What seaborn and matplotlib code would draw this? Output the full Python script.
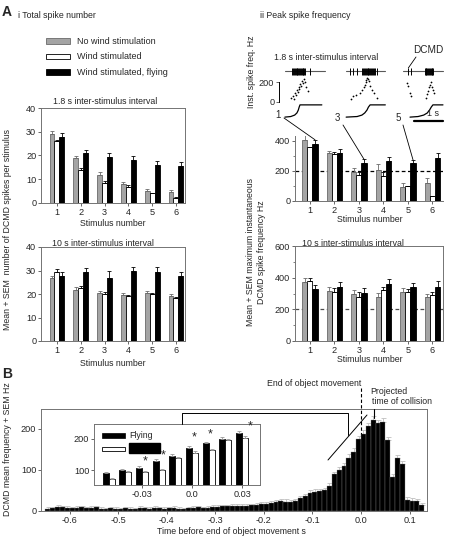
import numpy as np
import pandas as pd
import matplotlib
matplotlib.use("Agg")
import matplotlib.pyplot as plt
from matplotlib.patches import Patch, Rectangle
import seaborn as sns

W, H = 449, 538  # output size in pixels at dpi 100

# ── Data ──────────────────────────────────────────────────────────────
stimuli = [1, 2, 3, 4, 5, 6]
conditions = ["No wind stimulation", "Wind stimulated", "Wind stimulated, flying"]
fills = ["#a4a4a4", "white", "black"]
edges = ["#6a6a6a", "black", "black"]

# A i: total DCMD spikes per stimulus
tot18_nowind = [29.0, 18.8, 11.7, 7.9, 5.1, 4.6]
tot18_wind = [26.0, 13.8, 8.6, 6.9, 4.1, 2.2]
tot18_fly = [28.0, 21.0, 19.4, 18.2, 16.2, 15.4]
tot18_nowind_sem = [1.2, 1.1, 1.2, 1.0, 0.9, 0.9]
tot18_wind_sem = [0.7, 0.8, 0.7, 0.6, 0.3, 0.2]
tot18_fly_sem = [1.3, 1.5, 1.8, 1.5, 1.6, 1.8]

tot10_nowind = [26.6, 21.8, 20.4, 19.5, 20.3, 19.2]
tot10_wind = [29.3, 22.5, 19.8, 19.1, 19.8, 18.5]
tot10_fly = [27.6, 29.4, 27.0, 29.7, 29.3, 27.6]
tot10_nowind_sem = [1.0, 1.2, 1.0, 0.9, 1.1, 0.9]
tot10_wind_sem = [1.2, 0.8, 0.9, 0.6, 0.7, 0.4]
tot10_fly_sem = [1.9, 1.8, 2.6, 1.9, 2.3, 1.7]

# A ii: peak instantaneous DCMD frequency (Hz)
pk18_nowind = [405, 316, 195, 205, 95, 117]
pk18_wind = [354, 312, 172, 166, 97, 30]
pk18_fly = [378, 320, 250, 265, 250, 287]
pk18_nowind_sem = [32, 18, 26, 38, 22, 33]
pk18_wind_sem = [6, 10, 23, 28, 4, 3]
pk18_fly_sem = [27, 23, 26, 25, 22, 29]

pk10_nowind = [372, 314, 297, 280, 308, 275]
pk10_wind = [376, 312, 280, 325, 308, 290]
pk10_fly = [329, 344, 301, 361, 340, 344]
pk10_nowind_sem = [26, 24, 26, 21, 25, 22]
pk10_wind_sem = [22, 21, 28, 15, 21, 18]
pk10_fly_sem = [26, 28, 32, 28, 26, 32]

# A ii example recordings (time in s, inst. frequency in Hz)
ex_labels = ["1", "3", "5"]
ex1_spikes = [0.32, 0.36, 0.40, 0.43, 0.46, 0.49, 0.52, 0.55, 0.58, 0.61,
              0.64, 0.67, 0.70, 0.73, 0.76, 0.79, 0.95]
ex3_spikes = [0.50, 0.62, 0.74, 0.92, 0.96, 1.00, 1.03, 1.06, 1.09, 1.12,
              1.15, 1.18, 1.21, 1.24, 1.27, 1.31, 1.35, 1.39, 1.47]
ex5_spikes = [0.37, 0.45, 0.96, 0.99, 1.02, 1.05, 1.08, 1.11, 1.14, 1.17,
              1.20, 1.23, 1.26]
ex_raster_span = [(0.07, 1.50), (0.36, 1.75), (0.18, 1.61)]
ex1_dot_t = [0.30, 0.36, 0.40, 0.44, 0.47, 0.50, 0.53, 0.56, 0.59, 0.62,
             0.65, 0.68, 0.71, 0.74, 0.78, 0.84, 0.90]
ex1_dot_f = [40, 60, 30, 90, 70, 120, 100, 150, 130, 180, 160, 210, 190,
             230, 200, 150, 110]
ex3_dot_t = [0.52, 0.62, 0.72, 0.86, 0.94, 0.98, 1.02, 1.05, 1.08, 1.11,
             1.14, 1.17, 1.22, 1.28, 1.34, 1.45]
ex3_dot_f = [30, 55, 70, 95, 120, 150, 175, 200, 225, 245, 230, 210, 160,
             120, 90, 35]
ex5_dot_t = [0.34, 0.37, 0.42, 0.46, 1.00, 1.04, 1.08, 1.11, 1.14, 1.17,
             1.20, 1.24, 1.28]
ex5_dot_f = [190, 160, 90, 60, 40, 80, 110, 150, 175, 205, 150, 120, 90]
ex1_stim_t = [0.07, 0.28, 0.42, 0.50, 0.55, 0.58, 0.61, 1.39]
ex3_stim_t = [0.36, 0.75, 0.92, 1.02, 1.10, 1.15, 1.21, 1.75]
ex5_stim_t = [0.43, 0.72, 0.92, 1.05, 1.13, 1.19, 1.25, 1.61]
stim_trace_y = [-158, -152, -137, -115, -85, -55, -32, -32]

# B: DCMD mean frequency in 10 ms bins, first bin starts at -0.65 s
first_bin = -0.65
bin_width = 0.01
hist_freq = [
    6, 7, 10, 9, 8, 7, 8, 9, 7, 8, 9, 6, 5, 7, 6, 5, 7, 6, 5, 8,
    7, 6, 8, 7, 6, 7, 8, 6, 5, 7, 8, 9, 7, 8, 10,
    10, 11, 11, 12, 12, 13, 12, 14, 15, 16, 18, 20, 22,
    25, 23, 21, 24, 31, 36, 44, 47, 48, 51, 61, 89, 100, 109, 130, 144,
    175, 188, 206, 222, 214, 217, 172, 83, 128, 114, 27, 25, 24, 15,
]
hist_sem = [
    3, 3, 4, 3, 3, 3, 3, 3, 3, 3, 4, 3, 2, 3, 3, 2, 3, 3, 2, 3,
    3, 3, 3, 3, 3, 3, 3, 3, 2, 3, 3, 4, 3, 3, 4,
    4, 4, 4, 4, 4, 4, 4, 4, 5, 5, 5, 5, 5,
    5, 5, 5, 5, 6, 6, 6, 6, 6, 6, 7, 7, 7, 7, 8, 8,
    8, 8, 8, 8, 8, 8, 8, 7, 8, 8, 6, 6, 5, 4,
]
t_collision = 0.027

# B inset: flying vs wind stimulated around end of movement
inset_t = [-0.05, -0.04, -0.03, -0.02, -0.01, 0.0, 0.01, 0.02, 0.03]
inset_fly = [89, 100, 108, 130, 145, 172, 186, 199, 218]
inset_fly_sem = [6, 3, 5, 4, 5, 6, 5, 6, 6]
inset_wind = [71, 95, 95, 100, 138, 156, 165, 195, 202]
inset_wind_sem = [5, 3, 3, 3, 3, 5, 3, 4, 6]
star_t = [-0.028, -0.0174, 0.0012, 0.011, 0.0347]
star_f = [127, 148, 206, 213, 239]

# ── Style ─────────────────────────────────────────────────────────────
sns.set_theme(style="ticks")
plt.rcParams["font.family"] = ["Liberation Sans", "DejaVu Sans"]
plt.rcParams["font.size"] = 6.3
plt.rcParams["axes.unicode_minus"] = False

fig = plt.figure(figsize=(W / 100, H / 100), dpi=100)


def px_axes(left, top, right, bottom, **kw):
    return fig.add_axes([left / W, 1 - bottom / H, (right - left) / W, (bottom - top) / H], **kw)


def frame(ax, sides=("left", "bottom", "top", "right")):
    for name, sp in ax.spines.items():
        sp.set_visible(name in sides)
        sp.set_color("0.45")
        sp.set_linewidth(0.7)
    ax.tick_params(length=2.2, width=0.6, color="0.3", pad=1.2, labelsize=6.6)
    ax.tick_params(which="minor", length=1.4, width=0.5, color="0.3")
    ax.set_xlabel("")
    ax.set_ylabel("")


def grouped(ax, vals, sems, ylim, yticks, xlim):
    df = pd.DataFrame({"stim": stimuli * 3,
                       "cond": np.repeat(conditions, len(stimuli)),
                       "value": np.concatenate(vals)})
    sns.barplot(df, x="stim", y="value", hue="cond", hue_order=conditions,
                palette=fills, width=0.62, saturation=1, errorbar=None,
                legend=False, ax=ax, zorder=2)
    for cont, err, ec in zip(ax.containers, sems, edges):
        for bar, e in zip(cont, err):
            bar.set_edgecolor(ec)
            bar.set_linewidth(0.6)
            ax.errorbar(bar.get_x() + bar.get_width() / 2, bar.get_height(),
                        yerr=[[0], [e]], fmt="none", ecolor=ec, elinewidth=0.6,
                        capsize=1.7, capthick=0.6, zorder=3)
    ax.set_ylim(*ylim)
    ax.set_yticks(yticks)
    ax.set_xlim(*xlim)


# ── A i ───────────────────────────────────────────────────────────────
ai_top = px_axes(41, 108, 185, 203)
grouped(ai_top, [tot18_nowind, tot18_wind, tot18_fly],
        [tot18_nowind_sem, tot18_wind_sem, tot18_fly_sem],
        (0, 40), [0, 10, 20, 30, 40], (-0.67, 5.38))
frame(ai_top)

ai_bot = px_axes(41, 247, 185, 341)
grouped(ai_bot, [tot10_nowind, tot10_wind, tot10_fly],
        [tot10_nowind_sem, tot10_wind_sem, tot10_fly_sem],
        (0, 40), [0, 10, 20, 30, 40], (-0.67, 5.38))
frame(ai_bot)

# ── A ii ──────────────────────────────────────────────────────────────
aii_top = px_axes(295, 136, 443, 201)
grouped(aii_top, [pk18_nowind, pk18_wind, pk18_fly],
        [pk18_nowind_sem, pk18_wind_sem, pk18_fly_sem],
        (0, 430), [0, 200, 400], (-0.61, 5.43))
aii_top.set_yticks([100, 300], minor=True)
aii_top.axhline(200, color="black", lw=0.9, ls=(0, (3, 2)), zorder=1)
frame(aii_top, ("left", "bottom"))

aii_bot = px_axes(295, 246, 443, 341)
grouped(aii_bot, [pk10_nowind, pk10_wind, pk10_fly],
        [pk10_nowind_sem, pk10_wind_sem, pk10_fly_sem],
        (0, 600), [0, 200, 400, 600], (-0.61, 5.43))
aii_bot.set_yticks([100, 300, 500], minor=True)
aii_bot.axhline(200, color="0.3", lw=0.9, ls=(0, (3, 2)), zorder=1)
frame(aii_bot)

# example recordings above the 1.8 s peak frequency plot
ex_axes = []
ex_data = [
    (279, 335, -0.14, 2.0, ex1_spikes, ex1_dot_t, ex1_dot_f, ex1_stim_t),
    (336, 398, 0.0, 2.2, ex3_spikes, ex3_dot_t, ex3_dot_f, ex3_stim_t),
    (398, 448, 0.0, 1.79, ex5_spikes, ex5_dot_t, ex5_dot_f, ex5_stim_t),
]
for i, (left, right, t0, span, spikes, dot_t, dot_f, stim_t) in enumerate(ex_data):
    ax = px_axes(left, 60, right, 128)
    ax.patch.set_alpha(0)
    ax.set_xlim(t0, t0 + span)
    ax.set_ylim(-270, 430)
    r0, r1 = ex_raster_span[i]
    ax.plot([r0, r1], [312, 312], color="0.35", lw=0.8)
    ax.vlines(spikes, 278, 346, color="black", lw=0.7)
    sns.scatterplot(x=dot_t, y=dot_f, s=1.6, color="black", linewidth=0, ax=ax)
    ax.plot(stim_t, stim_trace_y, color="black", lw=0.9)
    frame(ax, ("left",) if i == 0 else ())
    ax.set_xticks([])
    if i == 0:
        ax.spines["left"].set_bounds(0, 200)
        ax.spines["left"].set_color("black")
        ax.set_yticks([0, 200])
    else:
        ax.set_yticks([])
    ex_axes.append(ax)

# ── B ───────────────────────────────────────────────────────────────
axB = px_axes(41, 409, 427, 511)
n_bins = len(hist_freq)
centers = np.round(first_bin + bin_width * (np.arange(n_bins) + 0.5), 4)
df_hist = pd.DataFrame({"t": centers, "freq": hist_freq})
axB.errorbar(centers, hist_freq, yerr=[np.zeros(n_bins), hist_sem],
             fmt="none", ecolor="0.75", elinewidth=0.6, capsize=1.8,
             capthick=0.6, zorder=1)
sns.histplot(df_hist, x="t", weights="freq", binwidth=bin_width,
             binrange=(first_bin, first_bin + n_bins * bin_width),
             color="black", edgecolor="0.5", linewidth=0.25, alpha=1,
             ax=axB, zorder=2)
axB.set_xlim(-0.659, 0.136)
axB.set_ylim(0, 248)
axB.set_yticks([0, 100, 200])
xt = [-0.6, -0.5, -0.4, -0.3, -0.2, -0.1, 0.0, 0.1]
axB.set_xticks(xt, [f"{v:.1f}" for v in xt])
frame(axB)

axI = px_axes(94, 424, 260, 485)
df_in = pd.DataFrame({"t": inset_t * 2,
                      "cond": ["Flying"] * len(inset_t) + ["Wind stimulated"] * len(inset_t),
                      "f": inset_fly + inset_wind})
sns.barplot(df_in, x="t", y="f", hue="cond", native_scale=True,
            palette=["black", "white"], width=0.72, saturation=1,
            errorbar=None, legend=False, ax=axI, zorder=2)
for cont, err in zip(axI.containers, [inset_fly_sem, inset_wind_sem]):
    for bar, e in zip(cont, err):
        bar.set_edgecolor("black")
        bar.set_linewidth(0.6)
        axI.errorbar(bar.get_x() + bar.get_width() / 2, bar.get_height(),
                     yerr=[[0], [e]], fmt="none", ecolor="0.6", elinewidth=0.6,
                     capsize=1.5, capthick=0.6, zorder=3)
for t, f in zip(star_t, star_f):
    axI.text(t, f, "*", ha="center", va="center", fontsize=9, clip_on=False)
axI.set_xlim(-0.0587, 0.0407)
axI.set_ylim(52, 248)
axI.set_yticks([100, 200])
axI.set_xticks([-0.03, 0.0, 0.03], ["-0.03", "0.0", "0.03"])
frame(axI)

# ── Legend and annotations (figure pixel overlay) ────────────────────
handles = [Patch(facecolor=f, edgecolor=e, linewidth=0.6) for f, e in zip(fills, edges)]
fig.legend(handles, conditions, loc="upper left", bbox_to_anchor=(46 / W, 1 - 37 / H),
           frameon=False, fontsize=6.5, handlelength=2.7, handleheight=0.55,
           handletextpad=0.7, labelspacing=0.72, borderpad=0, borderaxespad=0)

ov = fig.add_axes([0, 0, 1, 1], zorder=20)
ov.set_xlim(0, W)
ov.set_ylim(H, 0)
ov.axis("off")


def to_px(ax, x, y):
    return ov.transData.inverted().transform(ax.transData.transform((x, y)))


ov.text(2, 12.5, "A", fontsize=10, fontweight="bold", va="center")
ov.text(2, 374, "B", fontsize=10, fontweight="bold", va="center")
ov.text(18, 15, "i Total spike number", va="center")
ov.text(260, 16, "ii Peak spike frequency", va="center")

ov.text(53, 102, "1.8 s inter-stimulus interval", va="center")
ov.text(52, 243, "10 s inter-stimulus interval", va="center")
ov.text(274, 57, "1.8 s inter-stimulus interval", va="center")
ov.text(302, 243, "10 s inter-stimulus interval", va="center")
for x, y in [(113, 224), (113, 363), (370, 220), (370, 359)]:
    ov.text(x, y, "Stimulus number", ha="center", va="center")

ov.text(8, 229, "Mean + SEM  number of DCMD spikes per stimulus",
        rotation=90, ha="center", va="center")
ov.text(256, 252, "Mean + SEM maximum instantaneous\nDCMD spike frequency Hz",
        rotation=90, ha="center", va="center", linespacing=1.15)
ov.text(252, 72, "Inst. spike freq. Hz", rotation=90, ha="center", va="center")
ov.text(8, 449, "DCMD mean frequency + SEM Hz", rotation=90, ha="center", va="center")
ov.text(231, 532, "Time before end of object movement s", ha="center", va="center")

# example labels linked to the flying bars
label_xy = [(278, 115), (337, 118), (398, 118)]
line_start = [(284, 118), (343, 125), (403, 125)]
black_bars = aii_top.containers[2]
for lab, (lx, ly), (sx, sy) in zip(ex_labels, label_xy, line_start):
    ov.text(lx, ly, lab, fontsize=7, ha="center", va="center")
    bar = black_bars[int(lab) - 1]
    ex, ey = to_px(aii_top, bar.get_x() + bar.get_width() / 2,
                   bar.get_height() + pk18_fly_sem[int(lab) - 1])
    ov.plot([sx, ex], [sy, ey], color="black", lw=0.6)

ov.text(428, 50, "DCMD", fontsize=7.2, ha="center", va="center")
dx, dy = to_px(ex_axes[2], ex5_spikes[0], 348)
ov.plot([416, dx], [57, dy], color="black", lw=0.6)
ov.plot([414, 443], [121, 121], color="black", lw=1.6)
ov.text(433, 113, "1 s", fontsize=6.5, ha="center", va="center")

# B annotations
x0, _ = to_px(axB, 0.0, 0)
xc, _ = to_px(axB, t_collision, 0)
ov.plot([x0, x0], [388, 434], color="black", lw=0.8, ls=(0, (3, 2)))
ov.plot([xc, xc], [409, 418], color="black", lw=0.8)
ov.text(x0, 383, "End of object movement", ha="right", va="center")
ov.text(370, 391, "Projected", va="center")
ov.text(372, 402, "time of collision", va="center")
ov.plot([182, 182, 348, 348], [424, 413, 413, 435], color="black", lw=0.7)
ov.plot([328, 367], [460, 415], color="black", lw=0.7)

# inset legend (label of second entry is blacked out in the source)
ov.add_patch(Rectangle((102, 433), 23, 4.5, facecolor="black", edgecolor="black", lw=0.5))
ov.text(129, 435.5, "Flying", va="center")
ov.add_patch(Rectangle((102, 446.5), 23, 4.5, facecolor="white", edgecolor="black", lw=0.6))
ov.add_patch(Rectangle((129, 443), 31, 10, facecolor="black", edgecolor="black"))

fig.savefig("out.png", dpi=100)
